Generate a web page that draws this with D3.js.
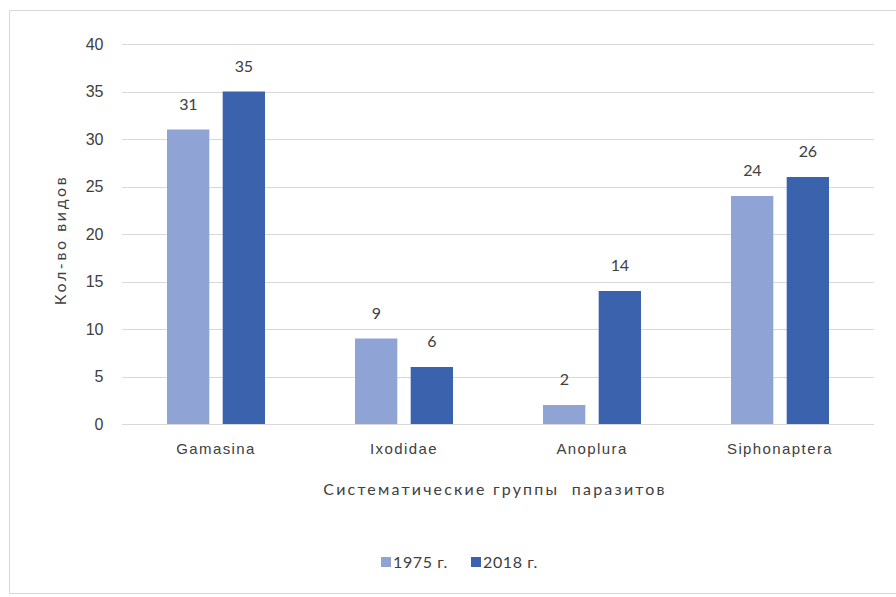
<!DOCTYPE html>
<html lang="ru">
<head>
  <meta charset="UTF-8">
  <title>Систематические группы паразитов</title>
  <script src="https://d3js.org/d3.v7.min.js"></script>
  <style>
    body { margin: 0; background: #fff; }
    svg { display: block; font-family: Lato, "Open Sans", sans-serif; }
  </style>
</head>
<body>
  <svg id="chart"></svg>
  <script>
    // Data
    const groups = ["Gamasina", "Ixodidae", "Anoplura", "Siphonaptera"];
    const seriesNames = ["1975 г.", "2018 г."];
    const values1975 = [31, 9, 2, 24];
    const values2018 = [35, 6, 14, 26];
    const yTicks = [0, 5, 10, 15, 20, 25, 30, 35, 40];
    const colors = ["#8FA4D5", "#3B63AD"];

    const W = 896, H = 597;
    const margin = {top: 44, right: 22, bottom: 173, left: 122};
    const width = W - margin.left - margin.right;
    const height = H - margin.top - margin.bottom;

    const svg = d3.select("#chart").attr("width", W).attr("height", H);

    // outer frame
    svg.append("rect")
      .attr("x", 9.5).attr("y", 10.5)
      .attr("width", W - 9).attr("height", H - 14)
      .attr("fill", "none").attr("stroke", "#d9d9d9");

    const g = svg.append("g").attr("transform", `translate(${margin.left},${margin.top})`);

    const x = d3.scaleBand().domain(groups).range([0, width]);
    const x1 = d3.scaleBand().domain(seriesNames).range([x.bandwidth() / 2 - 49, x.bandwidth() / 2 + 49]).paddingInner(0.24);
    const y = d3.scaleLinear().domain([0, 40]).range([height, 0]);

    // gridlines
    g.append("g")
      .selectAll("line")
      .data(yTicks)
      .join("line")
      .attr("x1", 0).attr("x2", width)
      .attr("y1", d => Math.round(y(d)) + 0.5).attr("y2", d => Math.round(y(d)) + 0.5)
      .attr("stroke", "#d9d9d9").attr("stroke-width", 1);

    // y axis
    const yAxis = g.append("g")
      .call(d3.axisLeft(y).tickValues(yTicks).tickSize(0).tickPadding(19));
    yAxis.select(".domain").remove();
    yAxis.selectAll("text")
      .attr("font-size", 16).attr("letter-spacing", -0.3)
      .attr("fill", "#404040");

    // x axis
    const xAxis = g.append("g")
      .attr("transform", `translate(0,${height})`)
      .call(d3.axisBottom(x).tickSize(0).tickPadding(19));
    xAxis.select(".domain").remove();
    xAxis.selectAll("text")
      .attr("font-size", 15).attr("letter-spacing", 1.4)
      .attr("fill", "#404040");

    // bars
    const data = groups.map((grp, i) => ({grp, vals: [values1975[i], values2018[i]]}));
    const grpSel = g.selectAll(".grp")
      .data(data)
      .join("g")
      .attr("class", "grp")
      .attr("transform", d => `translate(${x(d.grp)},0)`);

    grpSel.selectAll("rect")
      .data(d => d.vals.map((v, j) => ({s: seriesNames[j], v, j})))
      .join("rect")
      .attr("x", d => x1(d.s))
      .attr("width", x1.bandwidth())
      .attr("y", d => y(d.v))
      .attr("height", d => height - y(d.v))
      .attr("fill", d => colors[d.j]);

    grpSel.selectAll(".lbl")
      .data(d => d.vals.map((v, j) => ({s: seriesNames[j], v, j})))
      .join("text")
      .attr("class", "lbl")
      .attr("x", d => x1(d.s) + x1.bandwidth() / 2)
      .attr("y", d => y(d.v) - 20)
      .attr("text-anchor", "middle")
      .attr("font-size", 16)
      .attr("letter-spacing", -0.3)
      .attr("fill", "#404040")
      .text(d => d.v);

    // axis titles
    svg.append("text")
      .attr("transform", `translate(66,240) rotate(-90)`)
      .attr("text-anchor", "middle")
      .attr("font-size", 16)
      .attr("fill", "#404040")
      .attr("letter-spacing", 2.6)
      .text("Кол-во видов");

    svg.append("text")
      .attr("x", 495).attr("y", 495)
      .attr("text-anchor", "middle")
      .attr("font-size", 16)
      .attr("fill", "#404040")
      .attr("letter-spacing", 2.2)
      .style("white-space", "pre")
      .text("Систематические группы  паразитов");

    // legend
    const legend = svg.append("g").attr("transform", "translate(381,557)");
    const legX = [0, 90];
    seriesNames.forEach((s, i) => {
      legend.append("rect")
        .attr("x", legX[i]).attr("y", 0)
        .attr("width", 10).attr("height", 10)
        .attr("fill", colors[i]);
      legend.append("text")
        .attr("x", legX[i] + 12).attr("y", 11)
        .attr("font-size", 16)
        .attr("letter-spacing", 0.6)
        .attr("fill", "#404040")
        .text(s);
    });
  </script>
</body>
</html>
